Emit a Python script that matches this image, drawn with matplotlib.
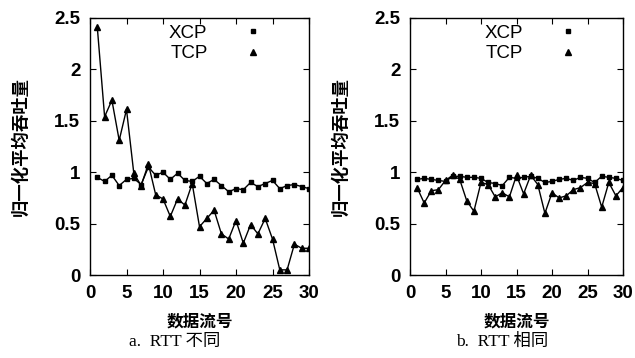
import matplotlib
matplotlib.use("Agg")
import matplotlib.pyplot as plt
from matplotlib.lines import Line2D
from matplotlib.ticker import FormatStrFormatter

# 数据流号 1..30
flows = list(range(1, 31))

# a. RTT 不同
xcp_a = [0.95, 0.91, 0.97, 0.87, 0.93, 0.94, 0.88, 1.05, 0.97, 1.00,
         0.93, 0.99, 0.92, 0.91, 0.96, 0.89, 0.93, 0.87, 0.81, 0.84,
         0.83, 0.90, 0.86, 0.89, 0.92, 0.84, 0.87, 0.88, 0.86, 0.84]
tcp_a = [2.41, 1.54, 1.70, 1.31, 1.61, 0.99, 0.87, 1.08, 0.78, 0.74,
         0.57, 0.74, 0.68, 0.89, 0.47, 0.55, 0.63, 0.40, 0.35, 0.53,
         0.31, 0.49, 0.40, 0.55, 0.35, 0.05, 0.05, 0.30, 0.26, 0.26]

# b. RTT 相同
xcp_b = [0.93, 0.94, 0.93, 0.92, 0.91, 0.96, 0.96, 0.95, 0.95, 0.94,
         0.90, 0.89, 0.87, 0.95, 0.94, 0.95, 0.96, 0.94, 0.90, 0.91,
         0.93, 0.94, 0.92, 0.95, 0.94, 0.90, 0.96, 0.95, 0.94, 0.92]
tcp_b = [0.85, 0.70, 0.82, 0.83, 0.92, 0.97, 0.93, 0.72, 0.62, 0.90,
         0.88, 0.76, 0.80, 0.76, 0.97, 0.79, 0.97, 0.88, 0.60, 0.80,
         0.75, 0.77, 0.83, 0.85, 0.90, 0.89, 0.66, 0.90, 0.77, 0.85]

y_ticks = [0, 0.5, 1, 1.5, 2, 2.5]
x_ticks = [0, 5, 10, 15, 20, 25, 30]
captions = ["a.  RTT 不同", "b.  RTT 相同"]

cjk = ["Noto Sans CJK SC", "DejaVu Sans"]
serif_cjk = ["Liberation Serif", "Noto Sans CJK SC"]
num_font = ["Liberation Sans", "DejaVu Sans"]

fig = plt.figure(figsize=(6.35, 3.58), dpi=100)
ax_a = fig.add_axes([90 / 635, 83 / 358, 219 / 635, 257 / 358])
ax_b = fig.add_axes([410 / 635, 83 / 358, 213 / 635, 257 / 358])

for ax, xcp, tcp, cap, cx in [(ax_a, xcp_a, tcp_a, captions[0], 175 / 635),
                             (ax_b, xcp_b, tcp_b, captions[1], 502 / 635)]:
    ax.plot(flows, xcp, color="black", lw=1.0, marker="s", ms=3.2)
    ax.plot(flows, tcp, color="black", lw=1.0, marker="^", ms=3.8)
    ax.set_xlim(0, 30)
    ax.set_ylim(0, 2.5)
    ax.set_xticks(x_ticks)
    ax.set_yticks(y_ticks)
    ax.yaxis.set_major_formatter(FormatStrFormatter("%g"))
    ax.tick_params(direction="in", length=4, width=0.8, top=True, right=True,
                   labelsize=13.5, pad=7)
    for lab in ax.get_xticklabels() + ax.get_yticklabels():
        lab.set_family(num_font)
        lab.set_fontweight("bold")
    for s in ax.spines.values():
        s.set_linewidth(1.0)
    ax.set_xlabel("数据流号", family=cjk, fontsize=12, fontweight="bold", labelpad=8)
    ax.set_ylabel("归一化平均吞吐量", family=cjk, fontsize=12.5, fontweight="bold", labelpad=18)

    handles = [Line2D([], [], color="black", ls="none", marker="s", ms=3.2),
               Line2D([], [], color="black", ls="none", marker="^", ms=3.8)]
    ax.legend(handles, ["XCP", "TCP"], loc="upper right", bbox_to_anchor=(0.785, 0.975),
              frameon=False, markerfirst=False, handlelength=1.0, handletextpad=1.9,
              labelspacing=0.2, borderpad=0, borderaxespad=0,
              prop={"family": num_font, "size": 13.5})

    fig.text(cx, 0.045, cap, family=serif_cjk, fontsize=12.5, ha="center", va="center")

fig.savefig("out.png", dpi=100)
